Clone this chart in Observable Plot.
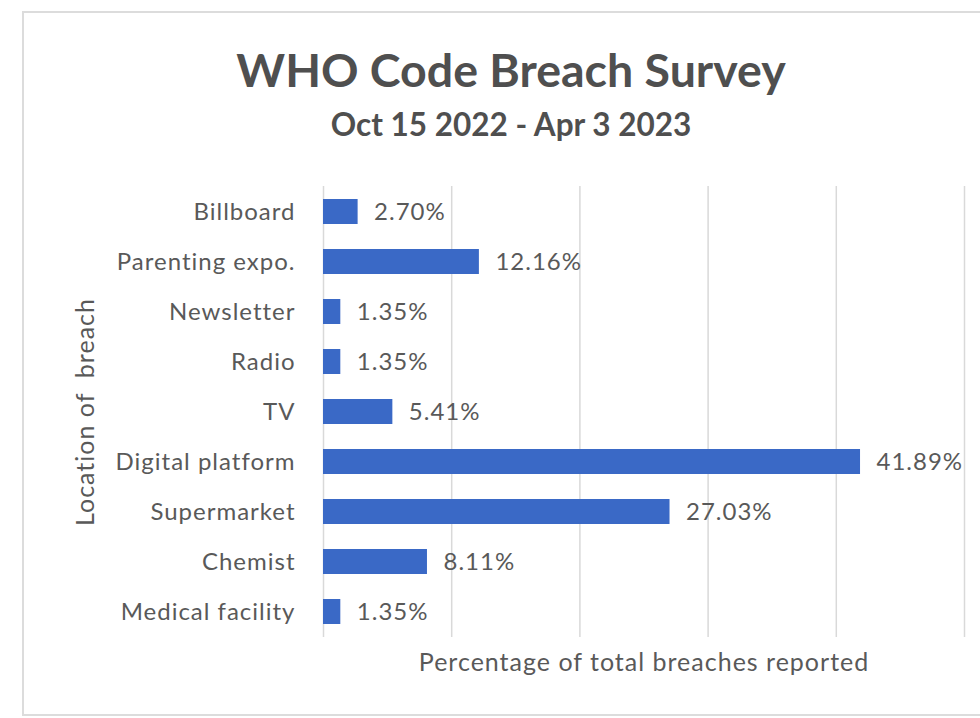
<!DOCTYPE html>
<html>
<head>
<meta charset="utf-8">
<script src="https://cdn.jsdelivr.net/npm/d3@7"></script>
<script src="https://cdn.jsdelivr.net/npm/@observablehq/plot@0.6"></script>
<style>
  html, body { margin: 0; padding: 0; background: #fff; }
  body { width: 980px; height: 718px; position: relative; overflow: hidden; font-family: Lato, "Open Sans", sans-serif; }
  #frame { position: absolute; left: 22px; top: 11px; width: 1000px; height: 705px; border: 2px solid #dcdcdc; box-sizing: border-box; }
  #title { position: absolute; left: 0; width: 1022px; top: 46px; text-align: center; font-size: 46.5px; font-weight: 700; color: #4f4f4f; line-height: 1; }
  #subtitle { position: absolute; left: 0; width: 1022px; top: 109px; text-align: center; font-size: 31.5px; font-weight: 700; color: #4f4f4f; line-height: 1; }
  #chart { position: absolute; left: 0; top: 165px; }
  #chart svg text { letter-spacing: 1px; }
</style>
</head>
<body>
<div id="frame"></div>
<div id="title">WHO Code Breach Survey</div>
<div id="subtitle">Oct 15 2022 - Apr 3 2023</div>
<div id="chart"></div>
<script>
const categories = ["Billboard", "Parenting expo.", "Newsletter", "Radio", "TV", "Digital platform", "Supermarket", "Chemist", "Medical facility"];
const values = [2.70, 12.16, 1.35, 1.35, 5.41, 41.89, 27.03, 8.11, 1.35];
const valueLabels = ["2.70%", "12.16%", "1.35%", "1.35%", "5.41%", "41.89%", "27.03%", "8.11%", "1.35%"];
const gridValues = [0, 10, 20, 30, 40, 50];
const xTitle = "Percentage of total breaches reported";
const yTitle = "Location of  breach";

const data = categories.map((c, i) => ({category: c, value: values[i], label: valueLabels[i]}));

const chart = Plot.plot({
  width: 980,
  height: 553,
  marginLeft: 323,
  marginRight: 16,
  marginTop: 21,
  marginBottom: 81,
  style: {fontFamily: "Lato, 'Open Sans', sans-serif", background: "transparent"},
  x: {domain: [0, 50], axis: null},
  y: {domain: categories, paddingInner: 0.5, paddingOuter: 0.25, axis: null},
  marks: [
    Plot.ruleX(gridValues, {stroke: "#d9d9d9", strokeWidth: 1.5}),
    Plot.barX(data, {x: "value", y: "category", fill: "#3a69c6"}),
    Plot.text(data, {x: "value", y: "category", text: "label", textAnchor: "start", dx: 16, fontSize: 24, fill: "#595959"}),
    Plot.text(data, {x: 0, y: "category", text: "category", textAnchor: "end", dx: -28, fontSize: 24, fill: "#595959"}),
    Plot.text([xTitle], {frameAnchor: "bottom", textAnchor: "middle", dy: 25, fontSize: 25, fill: "#595959", lineAnchor: "middle"}),
    Plot.text([yTitle], {frameAnchor: "left", textAnchor: "middle", dx: -238, rotate: -90, fontSize: 25, fill: "#595959"})
  ]
});
document.getElementById("chart").appendChild(chart);
</script>
</body>
</html>
